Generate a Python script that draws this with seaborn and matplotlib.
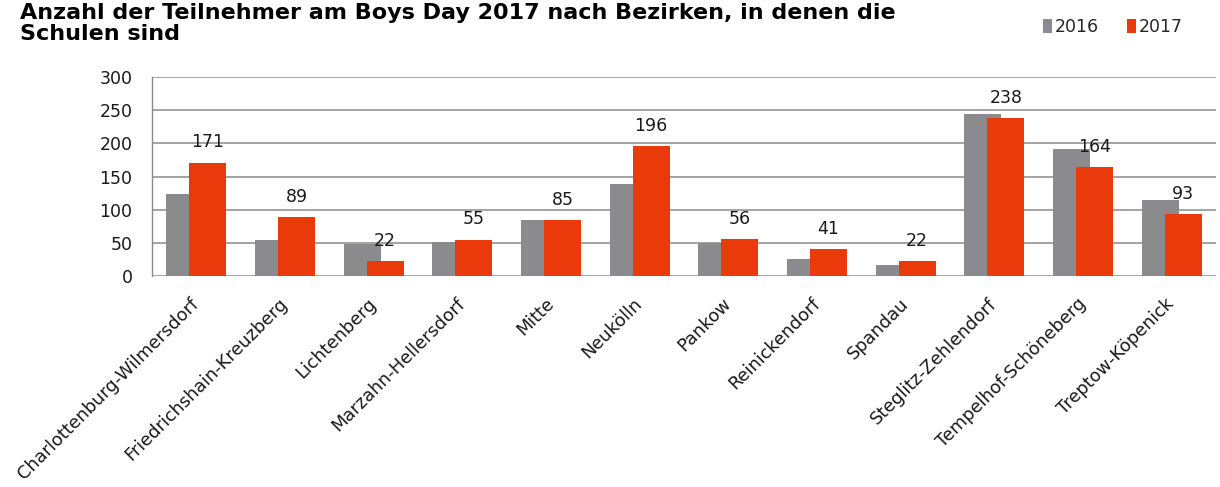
import matplotlib
matplotlib.use("Agg")
import matplotlib.pyplot as plt
import seaborn as sns
import pandas as pd

districts = ["Charlottenburg-Wilmersdorf", "Friedrichshain-Kreuzberg", "Lichtenberg",
             "Marzahn-Hellersdorf", "Mitte", "Neukölln", "Pankow", "Reinickendorf",
             "Spandau", "Steglitz-Zehlendorf", "Tempelhof-Schöneberg", "Treptow-Köpenick"]
values_2016 = [123, 55, 48, 51, 85, 138, 49, 25, 16, 244, 191, 114]
values_2017 = [171, 89, 22, 55, 85, 196, 56, 41, 22, 238, 164, 93]
years = ["2016", "2017"]
yticks = [0, 50, 100, 150, 200, 250, 300]
title = "Anzahl der Teilnehmer am Boys Day 2017 nach Bezirken, in denen die\nSchulen sind"

gray = "#8b8b8f"
red = "#ea3a0c"
grid_col = "#8a8a8a"

df = pd.DataFrame({
    "Bezirk": districts * 2,
    "Jahr": [years[0]] * len(districts) + [years[1]] * len(districts),
    "Anzahl": values_2016 + values_2017,
})

sns.set_theme(style="white")
plt.rcParams["font.family"] = ["DejaVu Sans"]

fig = plt.figure(figsize=(12.2, 4.87), dpi=100)
ax = fig.add_axes([152 / 1220, 1 - 276 / 487, 1064 / 1220, 199 / 487])

sns.barplot(data=df, x="Bezirk", y="Anzahl", hue="Jahr", order=districts,
            hue_order=years, palette={"2016": gray, "2017": red},
            width=0.84, saturation=1, errorbar=None, ax=ax, linewidth=0)

shift = 0.08
for p in ax.containers[0]:
    p.set_x(p.get_x() + shift)
    p.set_zorder(2)
for p in ax.containers[1]:
    p.set_x(p.get_x() - shift)
    p.set_zorder(3)

ax.bar_label(ax.containers[1], labels=[str(v) for v in values_2017],
             padding=8, fontsize=12.5, color="#1a1a1a")

ax.set_ylim(0, 300)
ax.set_yticks(yticks)
ax.set_yticklabels([str(t) for t in yticks], fontsize=12.5, color="#1a1a1a")
ax.set_xlim(-0.5, len(districts) - 0.5)
ax.set_xticks(range(len(districts)))
ax.set_xticklabels(districts, rotation=45, ha="right", va="center",
                   rotation_mode="anchor", fontsize=12.8, color="#1a1a1a")
ax.tick_params(axis="x", length=0, pad=18)
ax.tick_params(axis="y", length=0, pad=14)
ax.set_xlabel("")
ax.set_ylabel("")

ax.yaxis.grid(True, color=grid_col, linewidth=1.1)
ax.set_axisbelow(True)
for s in ["top", "right", "bottom"]:
    ax.spines[s].set_visible(False)
ax.spines["left"].set_color(grid_col)
ax.spines["left"].set_linewidth(1.0)

sns.move_legend(ax, "upper right", bbox_to_anchor=(1190 / 1220, 1 - 11 / 487),
                bbox_transform=fig.transFigure, ncol=2, frameon=False, title=None,
                fontsize=12.5, handlelength=0.5, handleheight=0.8,
                handletextpad=0.2, columnspacing=1.6, borderaxespad=0)

fig.text(20 / 1220, 1 - 44 / 487, title, fontsize=16, fontweight="bold",
         ha="left", va="bottom", linespacing=1.08, color="black")

fig.savefig("out.png", dpi=100)
